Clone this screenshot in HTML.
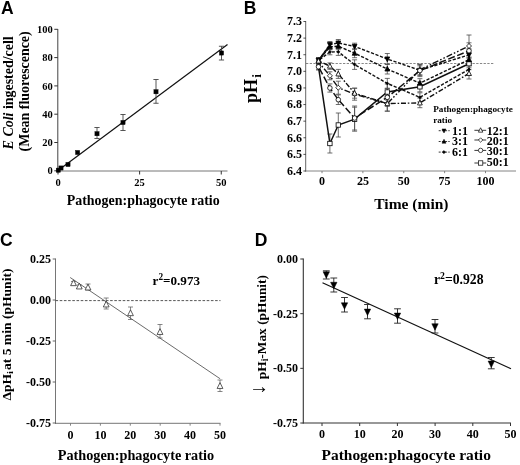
<!DOCTYPE html>
<html lang="en"><head><meta charset="utf-8"><title>Figure</title>
<style>html,body{margin:0;padding:0;background:#fff;}svg{display:block;filter:blur(0.35px);}</style>
</head><body>
<svg width="520" height="465" viewBox="0 0 520 465">
<rect x="0" y="0" width="520" height="465" fill="#fff"/>
<g id="panelA">
<text x="0.90" y="13.80" font-family='"Liberation Sans", sans-serif' font-size="17.5" font-weight="bold" text-anchor="start" fill="#000">A</text>
<line x1="57.80" y1="29.00" x2="57.80" y2="171.50" stroke="#444" stroke-width="1.0"/>
<line x1="57.30" y1="171.00" x2="227.50" y2="171.00" stroke="#666" stroke-width="0.9"/>
<line x1="54.30" y1="170.80" x2="57.80" y2="170.80" stroke="#333" stroke-width="1"/>
<text x="52.80" y="174.40" font-family='"Liberation Serif", serif' font-size="10.5" font-weight="bold" text-anchor="end" fill="#000">0</text>
<line x1="54.30" y1="142.50" x2="57.80" y2="142.50" stroke="#333" stroke-width="1"/>
<text x="52.80" y="146.10" font-family='"Liberation Serif", serif' font-size="10.5" font-weight="bold" text-anchor="end" fill="#000">20</text>
<line x1="54.30" y1="114.20" x2="57.80" y2="114.20" stroke="#333" stroke-width="1"/>
<text x="52.80" y="117.80" font-family='"Liberation Serif", serif' font-size="10.5" font-weight="bold" text-anchor="end" fill="#000">40</text>
<line x1="54.30" y1="85.90" x2="57.80" y2="85.90" stroke="#333" stroke-width="1"/>
<text x="52.80" y="89.50" font-family='"Liberation Serif", serif' font-size="10.5" font-weight="bold" text-anchor="end" fill="#000">60</text>
<line x1="54.30" y1="57.60" x2="57.80" y2="57.60" stroke="#333" stroke-width="1"/>
<text x="52.80" y="61.20" font-family='"Liberation Serif", serif' font-size="10.5" font-weight="bold" text-anchor="end" fill="#000">80</text>
<line x1="54.30" y1="29.30" x2="57.80" y2="29.30" stroke="#333" stroke-width="1"/>
<text x="52.80" y="32.90" font-family='"Liberation Serif", serif' font-size="10.5" font-weight="bold" text-anchor="end" fill="#000">100</text>
<line x1="58.00" y1="171.00" x2="58.00" y2="174.50" stroke="#333" stroke-width="1"/>
<text x="58.00" y="185.50" font-family='"Liberation Serif", serif' font-size="10.5" font-weight="bold" text-anchor="middle" fill="#000">0</text>
<line x1="139.62" y1="171.00" x2="139.62" y2="174.50" stroke="#333" stroke-width="1"/>
<text x="139.62" y="185.50" font-family='"Liberation Serif", serif' font-size="10.5" font-weight="bold" text-anchor="middle" fill="#000">25</text>
<line x1="221.25" y1="171.00" x2="221.25" y2="174.50" stroke="#333" stroke-width="1"/>
<text x="221.25" y="185.50" font-family='"Liberation Serif", serif' font-size="10.5" font-weight="bold" text-anchor="middle" fill="#000">50</text>
<text x="143.20" y="204.60" font-family='"Liberation Serif", serif' font-size="13.95" font-weight="bold" text-anchor="middle" fill="#000">Pathogen:phagocyte ratio</text>
<text transform="translate(13 149.4) rotate(-90)" font-family='"Liberation Serif", serif' font-size="13.95" font-weight="bold"><tspan font-style="italic">E Coli</tspan> ingested/cell</text>
<text transform="translate(28.8 151.4) rotate(-90)" font-family='"Liberation Serif", serif' font-size="13.95" font-weight="bold">(Mean fluorescence)</text>
<line x1="58.00" y1="170.50" x2="227.50" y2="44.50" stroke="#111" stroke-width="1.2"/>
<line x1="97.00" y1="127.50" x2="97.00" y2="138.50" stroke="#444" stroke-width="0.9"/>
<line x1="94.40" y1="127.50" x2="99.60" y2="127.50" stroke="#444" stroke-width="0.9"/>
<line x1="94.40" y1="138.50" x2="99.60" y2="138.50" stroke="#444" stroke-width="0.9"/>
<line x1="123.00" y1="114.50" x2="123.00" y2="130.50" stroke="#444" stroke-width="0.9"/>
<line x1="120.40" y1="114.50" x2="125.60" y2="114.50" stroke="#444" stroke-width="0.9"/>
<line x1="120.40" y1="130.50" x2="125.60" y2="130.50" stroke="#444" stroke-width="0.9"/>
<line x1="156.00" y1="79.50" x2="156.00" y2="103.25" stroke="#444" stroke-width="0.9"/>
<line x1="153.40" y1="79.50" x2="158.60" y2="79.50" stroke="#444" stroke-width="0.9"/>
<line x1="153.40" y1="103.25" x2="158.60" y2="103.25" stroke="#444" stroke-width="0.9"/>
<line x1="221.50" y1="46.25" x2="221.50" y2="60.00" stroke="#444" stroke-width="0.9"/>
<line x1="218.90" y1="46.25" x2="224.10" y2="46.25" stroke="#444" stroke-width="0.9"/>
<line x1="218.90" y1="60.00" x2="224.10" y2="60.00" stroke="#444" stroke-width="0.9"/>
<rect x="56.20" y="168.10" width="4.20" height="4.20" fill="#000" stroke="#000" stroke-width="0.4"/>
<rect x="58.90" y="165.90" width="4.20" height="4.20" fill="#000" stroke="#000" stroke-width="0.4"/>
<rect x="65.90" y="162.40" width="4.20" height="4.20" fill="#000" stroke="#000" stroke-width="0.4"/>
<rect x="75.50" y="150.40" width="4.20" height="4.20" fill="#000" stroke="#000" stroke-width="0.4"/>
<rect x="94.90" y="131.60" width="4.20" height="4.20" fill="#000" stroke="#000" stroke-width="0.4"/>
<rect x="120.90" y="120.40" width="4.20" height="4.20" fill="#000" stroke="#000" stroke-width="0.4"/>
<rect x="153.90" y="89.65" width="4.20" height="4.20" fill="#000" stroke="#000" stroke-width="0.4"/>
<rect x="219.40" y="50.90" width="4.20" height="4.20" fill="#000" stroke="#000" stroke-width="0.4"/>
</g>
<g id="panelB">
<text x="243.80" y="13.80" font-family='"Liberation Sans", sans-serif' font-size="17.5" font-weight="bold" text-anchor="start" fill="#000">B</text>
<line x1="305.70" y1="21.00" x2="305.70" y2="171.50" stroke="#555" stroke-width="0.9"/>
<line x1="305.50" y1="171.00" x2="516.00" y2="171.00" stroke="#777" stroke-width="0.9"/>
<line x1="303.40" y1="171.00" x2="306.00" y2="171.00" stroke="#444" stroke-width="0.9"/>
<text x="302.00" y="174.90" font-family='"Liberation Serif", serif' font-size="12" font-weight="bold" text-anchor="end" fill="#000">6.4</text>
<line x1="303.40" y1="154.39" x2="306.00" y2="154.39" stroke="#444" stroke-width="0.9"/>
<text x="302.00" y="158.29" font-family='"Liberation Serif", serif' font-size="12" font-weight="bold" text-anchor="end" fill="#000">6.5</text>
<line x1="303.40" y1="137.78" x2="306.00" y2="137.78" stroke="#444" stroke-width="0.9"/>
<text x="302.00" y="141.68" font-family='"Liberation Serif", serif' font-size="12" font-weight="bold" text-anchor="end" fill="#000">6.6</text>
<line x1="303.40" y1="121.17" x2="306.00" y2="121.17" stroke="#444" stroke-width="0.9"/>
<text x="302.00" y="125.07" font-family='"Liberation Serif", serif' font-size="12" font-weight="bold" text-anchor="end" fill="#000">6.7</text>
<line x1="303.40" y1="104.56" x2="306.00" y2="104.56" stroke="#444" stroke-width="0.9"/>
<text x="302.00" y="108.46" font-family='"Liberation Serif", serif' font-size="12" font-weight="bold" text-anchor="end" fill="#000">6.8</text>
<line x1="303.40" y1="87.95" x2="306.00" y2="87.95" stroke="#444" stroke-width="0.9"/>
<text x="302.00" y="91.85" font-family='"Liberation Serif", serif' font-size="12" font-weight="bold" text-anchor="end" fill="#000">6.9</text>
<line x1="303.40" y1="71.34" x2="306.00" y2="71.34" stroke="#444" stroke-width="0.9"/>
<text x="302.00" y="75.24" font-family='"Liberation Serif", serif' font-size="12" font-weight="bold" text-anchor="end" fill="#000">7.0</text>
<line x1="303.40" y1="54.73" x2="306.00" y2="54.73" stroke="#444" stroke-width="0.9"/>
<text x="302.00" y="58.63" font-family='"Liberation Serif", serif' font-size="12" font-weight="bold" text-anchor="end" fill="#000">7.1</text>
<line x1="303.40" y1="38.12" x2="306.00" y2="38.12" stroke="#444" stroke-width="0.9"/>
<text x="302.00" y="42.02" font-family='"Liberation Serif", serif' font-size="12" font-weight="bold" text-anchor="end" fill="#000">7.2</text>
<line x1="303.40" y1="21.51" x2="306.00" y2="21.51" stroke="#444" stroke-width="0.9"/>
<text x="302.00" y="25.41" font-family='"Liberation Serif", serif' font-size="12" font-weight="bold" text-anchor="end" fill="#000">7.3</text>
<line x1="322.00" y1="171.00" x2="322.00" y2="173.20" stroke="#777" stroke-width="0.9"/>
<text x="322.00" y="185.30" font-family='"Liberation Serif", serif' font-size="12" font-weight="bold" text-anchor="middle" fill="#000">0</text>
<line x1="362.88" y1="171.00" x2="362.88" y2="173.20" stroke="#777" stroke-width="0.9"/>
<text x="362.88" y="185.30" font-family='"Liberation Serif", serif' font-size="12" font-weight="bold" text-anchor="middle" fill="#000">25</text>
<line x1="403.75" y1="171.00" x2="403.75" y2="173.20" stroke="#777" stroke-width="0.9"/>
<text x="403.75" y="185.30" font-family='"Liberation Serif", serif' font-size="12" font-weight="bold" text-anchor="middle" fill="#000">50</text>
<line x1="444.62" y1="171.00" x2="444.62" y2="173.20" stroke="#777" stroke-width="0.9"/>
<text x="444.62" y="185.30" font-family='"Liberation Serif", serif' font-size="12" font-weight="bold" text-anchor="middle" fill="#000">75</text>
<line x1="485.50" y1="171.00" x2="485.50" y2="173.20" stroke="#777" stroke-width="0.9"/>
<text x="485.50" y="185.30" font-family='"Liberation Serif", serif' font-size="12" font-weight="bold" text-anchor="middle" fill="#000">100</text>
<text x="411.40" y="208.70" font-family='"Liberation Serif", serif' font-size="15.5" font-weight="bold" text-anchor="middle" fill="#000">Time (min)</text>
<text transform="translate(256.8 103) rotate(-90)" font-family='"Liberation Serif", serif' font-size="18" font-weight="bold">pH<tspan font-size="13.5" dy="4.6" dx="1.2">i</tspan></text>
<line x1="306.00" y1="63.50" x2="493.50" y2="63.50" stroke="#555" stroke-width="0.7" stroke-dasharray="2.3 1.4"/>
<line x1="318.50" y1="57.50" x2="318.50" y2="63.50" stroke="#4a4a4a" stroke-width="0.8"/>
<line x1="316.00" y1="57.50" x2="321.00" y2="57.50" stroke="#4a4a4a" stroke-width="0.8"/>
<line x1="316.00" y1="63.50" x2="321.00" y2="63.50" stroke="#4a4a4a" stroke-width="0.8"/>
<line x1="329.90" y1="41.50" x2="329.90" y2="47.50" stroke="#4a4a4a" stroke-width="0.8"/>
<line x1="327.40" y1="41.50" x2="332.40" y2="41.50" stroke="#4a4a4a" stroke-width="0.8"/>
<line x1="327.40" y1="47.50" x2="332.40" y2="47.50" stroke="#4a4a4a" stroke-width="0.8"/>
<line x1="338.30" y1="39.50" x2="338.30" y2="46.50" stroke="#4a4a4a" stroke-width="0.8"/>
<line x1="335.80" y1="39.50" x2="340.80" y2="39.50" stroke="#4a4a4a" stroke-width="0.8"/>
<line x1="335.80" y1="46.50" x2="340.80" y2="46.50" stroke="#4a4a4a" stroke-width="0.8"/>
<line x1="354.60" y1="43.20" x2="354.60" y2="49.60" stroke="#4a4a4a" stroke-width="0.8"/>
<line x1="352.10" y1="43.20" x2="357.10" y2="43.20" stroke="#4a4a4a" stroke-width="0.8"/>
<line x1="352.10" y1="49.60" x2="357.10" y2="49.60" stroke="#4a4a4a" stroke-width="0.8"/>
<line x1="387.30" y1="53.50" x2="387.30" y2="64.50" stroke="#4a4a4a" stroke-width="0.8"/>
<line x1="384.80" y1="53.50" x2="389.80" y2="53.50" stroke="#4a4a4a" stroke-width="0.8"/>
<line x1="384.80" y1="64.50" x2="389.80" y2="64.50" stroke="#4a4a4a" stroke-width="0.8"/>
<line x1="419.90" y1="65.80" x2="419.90" y2="74.80" stroke="#4a4a4a" stroke-width="0.8"/>
<line x1="417.40" y1="65.80" x2="422.40" y2="65.80" stroke="#4a4a4a" stroke-width="0.8"/>
<line x1="417.40" y1="74.80" x2="422.40" y2="74.80" stroke="#4a4a4a" stroke-width="0.8"/>
<line x1="469.00" y1="48.80" x2="469.00" y2="60.80" stroke="#4a4a4a" stroke-width="0.8"/>
<line x1="466.50" y1="48.80" x2="471.50" y2="48.80" stroke="#4a4a4a" stroke-width="0.8"/>
<line x1="466.50" y1="60.80" x2="471.50" y2="60.80" stroke="#4a4a4a" stroke-width="0.8"/>
<line x1="318.50" y1="57.50" x2="318.50" y2="63.50" stroke="#4a4a4a" stroke-width="0.8"/>
<line x1="316.00" y1="57.50" x2="321.00" y2="57.50" stroke="#4a4a4a" stroke-width="0.8"/>
<line x1="316.00" y1="63.50" x2="321.00" y2="63.50" stroke="#4a4a4a" stroke-width="0.8"/>
<line x1="329.90" y1="43.80" x2="329.90" y2="49.80" stroke="#4a4a4a" stroke-width="0.8"/>
<line x1="327.40" y1="43.80" x2="332.40" y2="43.80" stroke="#4a4a4a" stroke-width="0.8"/>
<line x1="327.40" y1="49.80" x2="332.40" y2="49.80" stroke="#4a4a4a" stroke-width="0.8"/>
<line x1="338.30" y1="42.70" x2="338.30" y2="49.70" stroke="#4a4a4a" stroke-width="0.8"/>
<line x1="335.80" y1="42.70" x2="340.80" y2="42.70" stroke="#4a4a4a" stroke-width="0.8"/>
<line x1="335.80" y1="49.70" x2="340.80" y2="49.70" stroke="#4a4a4a" stroke-width="0.8"/>
<line x1="354.60" y1="48.70" x2="354.60" y2="57.70" stroke="#4a4a4a" stroke-width="0.8"/>
<line x1="352.10" y1="48.70" x2="357.10" y2="48.70" stroke="#4a4a4a" stroke-width="0.8"/>
<line x1="352.10" y1="57.70" x2="357.10" y2="57.70" stroke="#4a4a4a" stroke-width="0.8"/>
<line x1="387.30" y1="64.00" x2="387.30" y2="74.00" stroke="#4a4a4a" stroke-width="0.8"/>
<line x1="384.80" y1="64.00" x2="389.80" y2="64.00" stroke="#4a4a4a" stroke-width="0.8"/>
<line x1="384.80" y1="74.00" x2="389.80" y2="74.00" stroke="#4a4a4a" stroke-width="0.8"/>
<line x1="419.90" y1="78.70" x2="419.90" y2="87.70" stroke="#4a4a4a" stroke-width="0.8"/>
<line x1="417.40" y1="78.70" x2="422.40" y2="78.70" stroke="#4a4a4a" stroke-width="0.8"/>
<line x1="417.40" y1="87.70" x2="422.40" y2="87.70" stroke="#4a4a4a" stroke-width="0.8"/>
<line x1="469.00" y1="53.70" x2="469.00" y2="65.70" stroke="#4a4a4a" stroke-width="0.8"/>
<line x1="466.50" y1="53.70" x2="471.50" y2="53.70" stroke="#4a4a4a" stroke-width="0.8"/>
<line x1="466.50" y1="65.70" x2="471.50" y2="65.70" stroke="#4a4a4a" stroke-width="0.8"/>
<line x1="318.50" y1="57.50" x2="318.50" y2="63.50" stroke="#4a4a4a" stroke-width="0.8"/>
<line x1="316.00" y1="57.50" x2="321.00" y2="57.50" stroke="#4a4a4a" stroke-width="0.8"/>
<line x1="316.00" y1="63.50" x2="321.00" y2="63.50" stroke="#4a4a4a" stroke-width="0.8"/>
<line x1="329.90" y1="49.20" x2="329.90" y2="54.80" stroke="#4a4a4a" stroke-width="0.8"/>
<line x1="327.40" y1="49.20" x2="332.40" y2="49.20" stroke="#4a4a4a" stroke-width="0.8"/>
<line x1="327.40" y1="54.80" x2="332.40" y2="54.80" stroke="#4a4a4a" stroke-width="0.8"/>
<line x1="338.30" y1="48.20" x2="338.30" y2="55.40" stroke="#4a4a4a" stroke-width="0.8"/>
<line x1="335.80" y1="48.20" x2="340.80" y2="48.20" stroke="#4a4a4a" stroke-width="0.8"/>
<line x1="335.80" y1="55.40" x2="340.80" y2="55.40" stroke="#4a4a4a" stroke-width="0.8"/>
<line x1="354.60" y1="59.80" x2="354.60" y2="69.40" stroke="#4a4a4a" stroke-width="0.8"/>
<line x1="352.10" y1="59.80" x2="357.10" y2="59.80" stroke="#4a4a4a" stroke-width="0.8"/>
<line x1="352.10" y1="69.40" x2="357.10" y2="69.40" stroke="#4a4a4a" stroke-width="0.8"/>
<line x1="387.30" y1="78.40" x2="387.30" y2="88.40" stroke="#4a4a4a" stroke-width="0.8"/>
<line x1="384.80" y1="78.40" x2="389.80" y2="78.40" stroke="#4a4a4a" stroke-width="0.8"/>
<line x1="384.80" y1="88.40" x2="389.80" y2="88.40" stroke="#4a4a4a" stroke-width="0.8"/>
<line x1="419.90" y1="92.80" x2="419.90" y2="101.80" stroke="#4a4a4a" stroke-width="0.8"/>
<line x1="417.40" y1="92.80" x2="422.40" y2="92.80" stroke="#4a4a4a" stroke-width="0.8"/>
<line x1="417.40" y1="101.80" x2="422.40" y2="101.80" stroke="#4a4a4a" stroke-width="0.8"/>
<line x1="469.00" y1="63.40" x2="469.00" y2="75.40" stroke="#4a4a4a" stroke-width="0.8"/>
<line x1="466.50" y1="63.40" x2="471.50" y2="63.40" stroke="#4a4a4a" stroke-width="0.8"/>
<line x1="466.50" y1="75.40" x2="471.50" y2="75.40" stroke="#4a4a4a" stroke-width="0.8"/>
<line x1="318.50" y1="57.50" x2="318.50" y2="64.50" stroke="#4a4a4a" stroke-width="0.8"/>
<line x1="316.00" y1="57.50" x2="321.00" y2="57.50" stroke="#4a4a4a" stroke-width="0.8"/>
<line x1="316.00" y1="64.50" x2="321.00" y2="64.50" stroke="#4a4a4a" stroke-width="0.8"/>
<line x1="329.90" y1="62.90" x2="329.90" y2="69.30" stroke="#4a4a4a" stroke-width="0.8"/>
<line x1="327.40" y1="62.90" x2="332.40" y2="62.90" stroke="#4a4a4a" stroke-width="0.8"/>
<line x1="327.40" y1="69.30" x2="332.40" y2="69.30" stroke="#4a4a4a" stroke-width="0.8"/>
<line x1="338.30" y1="69.40" x2="338.30" y2="78.40" stroke="#4a4a4a" stroke-width="0.8"/>
<line x1="335.80" y1="69.40" x2="340.80" y2="69.40" stroke="#4a4a4a" stroke-width="0.8"/>
<line x1="335.80" y1="78.40" x2="340.80" y2="78.40" stroke="#4a4a4a" stroke-width="0.8"/>
<line x1="354.60" y1="88.20" x2="354.60" y2="98.20" stroke="#4a4a4a" stroke-width="0.8"/>
<line x1="352.10" y1="88.20" x2="357.10" y2="88.20" stroke="#4a4a4a" stroke-width="0.8"/>
<line x1="352.10" y1="98.20" x2="357.10" y2="98.20" stroke="#4a4a4a" stroke-width="0.8"/>
<line x1="387.30" y1="96.10" x2="387.30" y2="111.10" stroke="#4a4a4a" stroke-width="0.8"/>
<line x1="384.80" y1="96.10" x2="389.80" y2="96.10" stroke="#4a4a4a" stroke-width="0.8"/>
<line x1="384.80" y1="111.10" x2="389.80" y2="111.10" stroke="#4a4a4a" stroke-width="0.8"/>
<line x1="419.90" y1="98.10" x2="419.90" y2="107.70" stroke="#4a4a4a" stroke-width="0.8"/>
<line x1="417.40" y1="98.10" x2="422.40" y2="98.10" stroke="#4a4a4a" stroke-width="0.8"/>
<line x1="417.40" y1="107.70" x2="422.40" y2="107.70" stroke="#4a4a4a" stroke-width="0.8"/>
<line x1="469.00" y1="67.80" x2="469.00" y2="79.00" stroke="#4a4a4a" stroke-width="0.8"/>
<line x1="466.50" y1="67.80" x2="471.50" y2="67.80" stroke="#4a4a4a" stroke-width="0.8"/>
<line x1="466.50" y1="79.00" x2="471.50" y2="79.00" stroke="#4a4a4a" stroke-width="0.8"/>
<line x1="318.50" y1="58.50" x2="318.50" y2="65.50" stroke="#4a4a4a" stroke-width="0.8"/>
<line x1="316.00" y1="58.50" x2="321.00" y2="58.50" stroke="#4a4a4a" stroke-width="0.8"/>
<line x1="316.00" y1="65.50" x2="321.00" y2="65.50" stroke="#4a4a4a" stroke-width="0.8"/>
<line x1="329.90" y1="71.80" x2="329.90" y2="79.80" stroke="#4a4a4a" stroke-width="0.8"/>
<line x1="327.40" y1="71.80" x2="332.40" y2="71.80" stroke="#4a4a4a" stroke-width="0.8"/>
<line x1="327.40" y1="79.80" x2="332.40" y2="79.80" stroke="#4a4a4a" stroke-width="0.8"/>
<line x1="338.30" y1="81.20" x2="338.30" y2="94.20" stroke="#4a4a4a" stroke-width="0.8"/>
<line x1="335.80" y1="81.20" x2="340.80" y2="81.20" stroke="#4a4a4a" stroke-width="0.8"/>
<line x1="335.80" y1="94.20" x2="340.80" y2="94.20" stroke="#4a4a4a" stroke-width="0.8"/>
<line x1="354.60" y1="88.20" x2="354.60" y2="100.20" stroke="#4a4a4a" stroke-width="0.8"/>
<line x1="352.10" y1="88.20" x2="357.10" y2="88.20" stroke="#4a4a4a" stroke-width="0.8"/>
<line x1="352.10" y1="100.20" x2="357.10" y2="100.20" stroke="#4a4a4a" stroke-width="0.8"/>
<line x1="387.30" y1="96.20" x2="387.30" y2="111.20" stroke="#4a4a4a" stroke-width="0.8"/>
<line x1="384.80" y1="96.20" x2="389.80" y2="96.20" stroke="#4a4a4a" stroke-width="0.8"/>
<line x1="384.80" y1="111.20" x2="389.80" y2="111.20" stroke="#4a4a4a" stroke-width="0.8"/>
<line x1="419.90" y1="64.20" x2="419.90" y2="75.40" stroke="#4a4a4a" stroke-width="0.8"/>
<line x1="417.40" y1="64.20" x2="422.40" y2="64.20" stroke="#4a4a4a" stroke-width="0.8"/>
<line x1="417.40" y1="75.40" x2="422.40" y2="75.40" stroke="#4a4a4a" stroke-width="0.8"/>
<line x1="469.00" y1="35.00" x2="469.00" y2="57.00" stroke="#4a4a4a" stroke-width="0.8"/>
<line x1="466.50" y1="35.00" x2="471.50" y2="35.00" stroke="#4a4a4a" stroke-width="0.8"/>
<line x1="466.50" y1="57.00" x2="471.50" y2="57.00" stroke="#4a4a4a" stroke-width="0.8"/>
<line x1="318.50" y1="63.80" x2="318.50" y2="69.80" stroke="#4a4a4a" stroke-width="0.8"/>
<line x1="316.00" y1="63.80" x2="321.00" y2="63.80" stroke="#4a4a4a" stroke-width="0.8"/>
<line x1="316.00" y1="69.80" x2="321.00" y2="69.80" stroke="#4a4a4a" stroke-width="0.8"/>
<line x1="329.90" y1="83.90" x2="329.90" y2="92.10" stroke="#4a4a4a" stroke-width="0.8"/>
<line x1="327.40" y1="83.90" x2="332.40" y2="83.90" stroke="#4a4a4a" stroke-width="0.8"/>
<line x1="327.40" y1="92.10" x2="332.40" y2="92.10" stroke="#4a4a4a" stroke-width="0.8"/>
<line x1="338.30" y1="94.90" x2="338.30" y2="104.50" stroke="#4a4a4a" stroke-width="0.8"/>
<line x1="335.80" y1="94.90" x2="340.80" y2="94.90" stroke="#4a4a4a" stroke-width="0.8"/>
<line x1="335.80" y1="104.50" x2="340.80" y2="104.50" stroke="#4a4a4a" stroke-width="0.8"/>
<line x1="354.60" y1="106.00" x2="354.60" y2="130.00" stroke="#4a4a4a" stroke-width="0.8"/>
<line x1="352.10" y1="106.00" x2="357.10" y2="106.00" stroke="#4a4a4a" stroke-width="0.8"/>
<line x1="352.10" y1="130.00" x2="357.10" y2="130.00" stroke="#4a4a4a" stroke-width="0.8"/>
<line x1="387.30" y1="88.30" x2="387.30" y2="106.30" stroke="#4a4a4a" stroke-width="0.8"/>
<line x1="384.80" y1="88.30" x2="389.80" y2="88.30" stroke="#4a4a4a" stroke-width="0.8"/>
<line x1="384.80" y1="106.30" x2="389.80" y2="106.30" stroke="#4a4a4a" stroke-width="0.8"/>
<line x1="419.90" y1="64.60" x2="419.90" y2="76.60" stroke="#4a4a4a" stroke-width="0.8"/>
<line x1="417.40" y1="64.60" x2="422.40" y2="64.60" stroke="#4a4a4a" stroke-width="0.8"/>
<line x1="417.40" y1="76.60" x2="422.40" y2="76.60" stroke="#4a4a4a" stroke-width="0.8"/>
<line x1="469.00" y1="42.80" x2="469.00" y2="58.80" stroke="#4a4a4a" stroke-width="0.8"/>
<line x1="466.50" y1="42.80" x2="471.50" y2="42.80" stroke="#4a4a4a" stroke-width="0.8"/>
<line x1="466.50" y1="58.80" x2="471.50" y2="58.80" stroke="#4a4a4a" stroke-width="0.8"/>
<line x1="318.50" y1="63.80" x2="318.50" y2="69.80" stroke="#4a4a4a" stroke-width="0.8"/>
<line x1="316.00" y1="63.80" x2="321.00" y2="63.80" stroke="#4a4a4a" stroke-width="0.8"/>
<line x1="316.00" y1="69.80" x2="321.00" y2="69.80" stroke="#4a4a4a" stroke-width="0.8"/>
<line x1="329.90" y1="134.00" x2="329.90" y2="153.00" stroke="#4a4a4a" stroke-width="0.8"/>
<line x1="327.40" y1="134.00" x2="332.40" y2="134.00" stroke="#4a4a4a" stroke-width="0.8"/>
<line x1="327.40" y1="153.00" x2="332.40" y2="153.00" stroke="#4a4a4a" stroke-width="0.8"/>
<line x1="338.30" y1="113.00" x2="338.30" y2="137.00" stroke="#4a4a4a" stroke-width="0.8"/>
<line x1="335.80" y1="113.00" x2="340.80" y2="113.00" stroke="#4a4a4a" stroke-width="0.8"/>
<line x1="335.80" y1="137.00" x2="340.80" y2="137.00" stroke="#4a4a4a" stroke-width="0.8"/>
<line x1="354.60" y1="107.20" x2="354.60" y2="131.20" stroke="#4a4a4a" stroke-width="0.8"/>
<line x1="352.10" y1="107.20" x2="357.10" y2="107.20" stroke="#4a4a4a" stroke-width="0.8"/>
<line x1="352.10" y1="131.20" x2="357.10" y2="131.20" stroke="#4a4a4a" stroke-width="0.8"/>
<line x1="387.30" y1="84.00" x2="387.30" y2="100.00" stroke="#4a4a4a" stroke-width="0.8"/>
<line x1="384.80" y1="84.00" x2="389.80" y2="84.00" stroke="#4a4a4a" stroke-width="0.8"/>
<line x1="384.80" y1="100.00" x2="389.80" y2="100.00" stroke="#4a4a4a" stroke-width="0.8"/>
<line x1="419.90" y1="81.80" x2="419.90" y2="91.80" stroke="#4a4a4a" stroke-width="0.8"/>
<line x1="417.40" y1="81.80" x2="422.40" y2="81.80" stroke="#4a4a4a" stroke-width="0.8"/>
<line x1="417.40" y1="91.80" x2="422.40" y2="91.80" stroke="#4a4a4a" stroke-width="0.8"/>
<line x1="469.00" y1="57.70" x2="469.00" y2="69.70" stroke="#4a4a4a" stroke-width="0.8"/>
<line x1="466.50" y1="57.70" x2="471.50" y2="57.70" stroke="#4a4a4a" stroke-width="0.8"/>
<line x1="466.50" y1="69.70" x2="471.50" y2="69.70" stroke="#4a4a4a" stroke-width="0.8"/>
<polyline points="318.50,60.50 329.90,44.50 338.30,43.00 354.60,46.40 387.30,59.00 419.90,70.30 469.00,54.80" fill="none" stroke="#111" stroke-width="1.4" stroke-dasharray="3.2 1.6" stroke-dashoffset="0.0"/>
<polyline points="318.50,60.50 329.90,46.80 338.30,46.20 354.60,53.20 387.30,69.00 419.90,83.20 469.00,59.70" fill="none" stroke="#111" stroke-width="1.4" stroke-dasharray="3.2 1.6" stroke-dashoffset="1.6"/>
<polyline points="318.50,60.50 329.90,52.00 338.30,51.80 354.60,64.60 387.30,83.40 419.90,97.30 469.00,69.40" fill="none" stroke="#111" stroke-width="1.4" stroke-dasharray="3.2 1.6" stroke-dashoffset="3.2"/>
<polyline points="318.50,61.00 329.90,66.10 338.30,73.90 354.60,93.20 387.30,103.60 419.90,102.90 469.00,73.40" fill="none" stroke="#111" stroke-width="1.4" stroke-dasharray="5 1.8 1.6 1.8" stroke-dashoffset="4.8"/>
<polyline points="318.50,62.00 329.90,75.80 338.30,87.70 354.60,94.20 387.30,103.70 419.90,69.80 469.00,46.00" fill="none" stroke="#111" stroke-width="1.4" stroke-dasharray="6 2 1.6 2 1.6 2" stroke-dashoffset="6.4"/>
<polyline points="318.50,66.80 329.90,88.00 338.30,99.70 354.60,118.00 387.30,97.30 419.90,70.60 469.00,50.80" fill="none" stroke="#111" stroke-width="1.5" stroke-dasharray="7 2.6" stroke-dashoffset="8.0"/>
<polyline points="318.50,66.80 329.90,143.50 338.30,125.00 354.60,119.20 387.30,92.00 419.90,86.80 469.00,63.70" fill="none" stroke="#111" stroke-width="1.5"/>
<line x1="318.50" y1="60.50" x2="329.90" y2="45.50" stroke="#111" stroke-width="1.9"/>
<rect x="327.70" y="141.30" width="4.40" height="4.40" fill="#fff" stroke="#000" stroke-width="0.8"/>
<rect x="336.10" y="122.80" width="4.40" height="4.40" fill="#fff" stroke="#000" stroke-width="0.8"/>
<rect x="352.40" y="117.00" width="4.40" height="4.40" fill="#fff" stroke="#000" stroke-width="0.8"/>
<rect x="385.10" y="89.80" width="4.40" height="4.40" fill="#fff" stroke="#000" stroke-width="0.8"/>
<rect x="417.70" y="84.60" width="4.40" height="4.40" fill="#fff" stroke="#000" stroke-width="0.8"/>
<rect x="466.80" y="61.50" width="4.40" height="4.40" fill="#fff" stroke="#000" stroke-width="0.8"/>
<polygon points="329.90,73.30 332.40,75.80 329.90,78.30 327.40,75.80" fill="#fff" stroke="#000" stroke-width="0.8"/>
<polygon points="338.30,85.20 340.80,87.70 338.30,90.20 335.80,87.70" fill="#fff" stroke="#000" stroke-width="0.8"/>
<polygon points="354.60,91.70 357.10,94.20 354.60,96.70 352.10,94.20" fill="#fff" stroke="#000" stroke-width="0.8"/>
<polygon points="387.30,101.20 389.80,103.70 387.30,106.20 384.80,103.70" fill="#fff" stroke="#000" stroke-width="0.8"/>
<polygon points="419.90,67.30 422.40,69.80 419.90,72.30 417.40,69.80" fill="#fff" stroke="#000" stroke-width="0.8"/>
<polygon points="469.00,43.50 471.50,46.00 469.00,48.50 466.50,46.00" fill="#fff" stroke="#000" stroke-width="0.8"/>
<polygon points="318.50,63.26 316.10,58.46 320.90,58.46" fill="#000" stroke="#000" stroke-width="0.8"/>
<polygon points="329.90,47.26 327.50,42.46 332.30,42.46" fill="#000" stroke="#000" stroke-width="0.8"/>
<polygon points="338.30,45.76 335.90,40.96 340.70,40.96" fill="#000" stroke="#000" stroke-width="0.8"/>
<polygon points="354.60,49.16 352.20,44.36 357.00,44.36" fill="#000" stroke="#000" stroke-width="0.8"/>
<polygon points="387.30,61.76 384.90,56.96 389.70,56.96" fill="#000" stroke="#000" stroke-width="0.8"/>
<polygon points="419.90,73.06 417.50,68.26 422.30,68.26" fill="#000" stroke="#000" stroke-width="0.8"/>
<polygon points="469.00,57.56 466.60,52.76 471.40,52.76" fill="#000" stroke="#000" stroke-width="0.8"/>
<polygon points="318.50,57.74 316.10,62.54 320.90,62.54" fill="#000" stroke="#000" stroke-width="0.8"/>
<polygon points="329.90,44.04 327.50,48.84 332.30,48.84" fill="#000" stroke="#000" stroke-width="0.8"/>
<polygon points="338.30,43.44 335.90,48.24 340.70,48.24" fill="#000" stroke="#000" stroke-width="0.8"/>
<polygon points="354.60,50.44 352.20,55.24 357.00,55.24" fill="#000" stroke="#000" stroke-width="0.8"/>
<polygon points="387.30,66.24 384.90,71.04 389.70,71.04" fill="#000" stroke="#000" stroke-width="0.8"/>
<polygon points="419.90,80.44 417.50,85.24 422.30,85.24" fill="#000" stroke="#000" stroke-width="0.8"/>
<polygon points="469.00,56.94 466.60,61.74 471.40,61.74" fill="#000" stroke="#000" stroke-width="0.8"/>
<polygon points="318.50,59.10 319.90,60.50 318.50,61.90 317.10,60.50" fill="#000" stroke="#000" stroke-width="0.8"/>
<polygon points="329.90,50.60 331.30,52.00 329.90,53.40 328.50,52.00" fill="#000" stroke="#000" stroke-width="0.8"/>
<polygon points="338.30,50.40 339.70,51.80 338.30,53.20 336.90,51.80" fill="#000" stroke="#000" stroke-width="0.8"/>
<polygon points="354.60,63.20 356.00,64.60 354.60,66.00 353.20,64.60" fill="#000" stroke="#000" stroke-width="0.8"/>
<polygon points="387.30,82.00 388.70,83.40 387.30,84.80 385.90,83.40" fill="#000" stroke="#000" stroke-width="0.8"/>
<polygon points="419.90,95.90 421.30,97.30 419.90,98.70 418.50,97.30" fill="#000" stroke="#000" stroke-width="0.8"/>
<polygon points="469.00,68.00 470.40,69.40 469.00,70.80 467.60,69.40" fill="#000" stroke="#000" stroke-width="0.8"/>
<circle cx="318.50" cy="66.80" r="2.30" fill="#fff" stroke="#000" stroke-width="0.8"/>
<circle cx="329.90" cy="88.00" r="2.30" fill="#fff" stroke="#000" stroke-width="0.8"/>
<circle cx="338.30" cy="99.70" r="2.30" fill="#fff" stroke="#000" stroke-width="0.8"/>
<circle cx="354.60" cy="118.00" r="2.30" fill="#fff" stroke="#000" stroke-width="0.8"/>
<circle cx="387.30" cy="97.30" r="2.30" fill="#fff" stroke="#000" stroke-width="0.8"/>
<circle cx="419.90" cy="70.60" r="2.30" fill="#fff" stroke="#000" stroke-width="0.8"/>
<circle cx="469.00" cy="50.80" r="2.30" fill="#fff" stroke="#000" stroke-width="0.8"/>
<polygon points="318.50,58.24 316.10,63.04 320.90,63.04" fill="#fff" stroke="#000" stroke-width="0.8"/>
<polygon points="329.90,63.34 327.50,68.14 332.30,68.14" fill="#fff" stroke="#000" stroke-width="0.8"/>
<polygon points="338.30,71.14 335.90,75.94 340.70,75.94" fill="#fff" stroke="#000" stroke-width="0.8"/>
<polygon points="354.60,90.44 352.20,95.24 357.00,95.24" fill="#fff" stroke="#000" stroke-width="0.8"/>
<polygon points="387.30,100.84 384.90,105.64 389.70,105.64" fill="#fff" stroke="#000" stroke-width="0.8"/>
<polygon points="419.90,100.14 417.50,104.94 422.30,104.94" fill="#fff" stroke="#000" stroke-width="0.8"/>
<polygon points="469.00,70.64 466.60,75.44 471.40,75.44" fill="#fff" stroke="#000" stroke-width="0.8"/>
<text x="433.20" y="111.70" font-family='"Liberation Serif", serif' font-size="9.2" font-weight="bold" text-anchor="start" fill="#000">Pathogen:phagocyte</text>
<text x="433.20" y="122.80" font-family='"Liberation Serif", serif' font-size="9.2" font-weight="bold" text-anchor="start" fill="#000">ratio</text>
<line x1="438.70" y1="130.70" x2="449.70" y2="130.70" stroke="#222" stroke-width="0.9" stroke-dasharray="2 1.2"/>
<polygon points="444.00,133.00 442.00,129.00 446.00,129.00" fill="#000" stroke="#000" stroke-width="0.5"/>
<text x="452.00" y="134.90" font-family='"Liberation Serif", serif' font-size="12" font-weight="bold" text-anchor="start" fill="#000">1:1</text>
<line x1="438.70" y1="141.50" x2="449.70" y2="141.50" stroke="#222" stroke-width="0.9" stroke-dasharray="2 1.2"/>
<polygon points="444.00,139.20 442.00,143.20 446.00,143.20" fill="#000" stroke="#000" stroke-width="0.5"/>
<text x="452.00" y="145.00" font-family='"Liberation Serif", serif' font-size="12" font-weight="bold" text-anchor="start" fill="#000">3:1</text>
<line x1="438.70" y1="152.10" x2="449.70" y2="152.10" stroke="#222" stroke-width="0.9" stroke-dasharray="2 1.2"/>
<polygon points="444.00,150.50 445.60,152.10 444.00,153.70 442.40,152.10" fill="#000" stroke="#000" stroke-width="0.5"/>
<text x="452.00" y="155.60" font-family='"Liberation Serif", serif' font-size="12" font-weight="bold" text-anchor="start" fill="#000">6:1</text>
<line x1="474.40" y1="130.30" x2="486.20" y2="130.30" stroke="#222" stroke-width="0.9"/>
<polygon points="480.60,127.77 478.40,132.17 482.80,132.17" fill="#fff" stroke="#000" stroke-width="0.7"/>
<text x="486.70" y="134.60" font-family='"Liberation Serif", serif' font-size="12" font-weight="bold" text-anchor="start" fill="#000">12:1</text>
<line x1="474.40" y1="140.00" x2="486.20" y2="140.00" stroke="#222" stroke-width="0.9"/>
<polygon points="480.60,137.80 482.80,140.00 480.60,142.20 478.40,140.00" fill="#fff" stroke="#000" stroke-width="0.7"/>
<text x="486.70" y="144.70" font-family='"Liberation Serif", serif' font-size="12" font-weight="bold" text-anchor="start" fill="#000">20:1</text>
<line x1="474.40" y1="150.40" x2="486.20" y2="150.40" stroke="#222" stroke-width="0.9"/>
<circle cx="480.60" cy="150.40" r="2.20" fill="#fff" stroke="#000" stroke-width="0.7"/>
<text x="486.70" y="155.10" font-family='"Liberation Serif", serif' font-size="12" font-weight="bold" text-anchor="start" fill="#000">30:1</text>
<line x1="474.40" y1="163.00" x2="486.20" y2="163.00" stroke="#222" stroke-width="0.9"/>
<rect x="478.40" y="160.80" width="4.40" height="4.40" fill="#fff" stroke="#000" stroke-width="0.7"/>
<text x="486.70" y="166.40" font-family='"Liberation Serif", serif' font-size="12" font-weight="bold" text-anchor="start" fill="#000">50:1</text>
</g>
<g id="panelC">
<text x="0.10" y="246.20" font-family='"Liberation Sans", sans-serif' font-size="17.5" font-weight="bold" text-anchor="start" fill="#000">C</text>
<line x1="55.50" y1="258.50" x2="55.50" y2="423.80" stroke="#666" stroke-width="0.9"/>
<line x1="55.00" y1="423.30" x2="220.50" y2="423.30" stroke="#666" stroke-width="0.9"/>
<line x1="52.70" y1="259.00" x2="55.50" y2="259.00" stroke="#555" stroke-width="0.9"/>
<text x="51.10" y="262.90" font-family='"Liberation Serif", serif' font-size="12" font-weight="bold" text-anchor="end" fill="#000">0.25</text>
<line x1="52.70" y1="300.00" x2="55.50" y2="300.00" stroke="#555" stroke-width="0.9"/>
<text x="51.10" y="303.90" font-family='"Liberation Serif", serif' font-size="12" font-weight="bold" text-anchor="end" fill="#000">0.00</text>
<line x1="52.70" y1="341.00" x2="55.50" y2="341.00" stroke="#555" stroke-width="0.9"/>
<text x="51.10" y="344.90" font-family='"Liberation Serif", serif' font-size="12" font-weight="bold" text-anchor="end" fill="#000">-0.25</text>
<line x1="52.70" y1="382.00" x2="55.50" y2="382.00" stroke="#555" stroke-width="0.9"/>
<text x="51.10" y="385.90" font-family='"Liberation Serif", serif' font-size="12" font-weight="bold" text-anchor="end" fill="#000">-0.50</text>
<line x1="52.70" y1="423.00" x2="55.50" y2="423.00" stroke="#555" stroke-width="0.9"/>
<text x="51.10" y="426.90" font-family='"Liberation Serif", serif' font-size="12" font-weight="bold" text-anchor="end" fill="#000">-0.75</text>
<line x1="70.50" y1="423.30" x2="70.50" y2="425.70" stroke="#777" stroke-width="0.9"/>
<text x="70.50" y="438.50" font-family='"Liberation Serif", serif' font-size="12" font-weight="bold" text-anchor="middle" fill="#000">0</text>
<line x1="100.40" y1="423.30" x2="100.40" y2="425.70" stroke="#777" stroke-width="0.9"/>
<text x="100.40" y="438.50" font-family='"Liberation Serif", serif' font-size="12" font-weight="bold" text-anchor="middle" fill="#000">10</text>
<line x1="130.30" y1="423.30" x2="130.30" y2="425.70" stroke="#777" stroke-width="0.9"/>
<text x="130.30" y="438.50" font-family='"Liberation Serif", serif' font-size="12" font-weight="bold" text-anchor="middle" fill="#000">20</text>
<line x1="160.20" y1="423.30" x2="160.20" y2="425.70" stroke="#777" stroke-width="0.9"/>
<text x="160.20" y="438.50" font-family='"Liberation Serif", serif' font-size="12" font-weight="bold" text-anchor="middle" fill="#000">30</text>
<line x1="190.10" y1="423.30" x2="190.10" y2="425.70" stroke="#777" stroke-width="0.9"/>
<text x="190.10" y="438.50" font-family='"Liberation Serif", serif' font-size="12" font-weight="bold" text-anchor="middle" fill="#000">40</text>
<line x1="220.00" y1="423.30" x2="220.00" y2="425.70" stroke="#777" stroke-width="0.9"/>
<text x="220.00" y="438.50" font-family='"Liberation Serif", serif' font-size="12" font-weight="bold" text-anchor="middle" fill="#000">50</text>
<text x="135.90" y="459.60" font-family='"Liberation Serif", serif' font-size="14.25" font-weight="bold" text-anchor="middle" fill="#000">Pathogen:phagocyte ratio</text>
<text transform="translate(10.9 400.6) rotate(-90) scale(1.115 1)" font-family='"Liberation Serif", serif' font-size="12.2" font-weight="bold">ΔpH<tspan font-size="9" dy="2.5">i</tspan><tspan dy="-2.5" dx="1">at 5 min (pHunit)</tspan></text>
<line x1="55.50" y1="300.60" x2="220.50" y2="300.60" stroke="#444" stroke-width="0.9" stroke-dasharray="2.6 1.6"/>
<line x1="70.20" y1="277.50" x2="220.20" y2="378.80" stroke="#444" stroke-width="0.8"/>
<line x1="73.50" y1="281.50" x2="73.50" y2="285.00" stroke="#555" stroke-width="0.7"/>
<line x1="71.00" y1="281.50" x2="76.00" y2="281.50" stroke="#555" stroke-width="0.7"/>
<line x1="71.00" y1="285.00" x2="76.00" y2="285.00" stroke="#555" stroke-width="0.7"/>
<line x1="79.30" y1="285.00" x2="79.30" y2="288.50" stroke="#555" stroke-width="0.7"/>
<line x1="76.80" y1="285.00" x2="81.80" y2="285.00" stroke="#555" stroke-width="0.7"/>
<line x1="76.80" y1="288.50" x2="81.80" y2="288.50" stroke="#555" stroke-width="0.7"/>
<line x1="88.00" y1="284.00" x2="88.00" y2="290.00" stroke="#555" stroke-width="0.7"/>
<line x1="85.50" y1="284.00" x2="90.50" y2="284.00" stroke="#555" stroke-width="0.7"/>
<line x1="85.50" y1="290.00" x2="90.50" y2="290.00" stroke="#555" stroke-width="0.7"/>
<line x1="106.20" y1="298.00" x2="106.20" y2="309.00" stroke="#555" stroke-width="0.7"/>
<line x1="103.70" y1="298.00" x2="108.70" y2="298.00" stroke="#555" stroke-width="0.7"/>
<line x1="103.70" y1="309.00" x2="108.70" y2="309.00" stroke="#555" stroke-width="0.7"/>
<line x1="130.50" y1="307.00" x2="130.50" y2="319.50" stroke="#555" stroke-width="0.7"/>
<line x1="128.00" y1="307.00" x2="133.00" y2="307.00" stroke="#555" stroke-width="0.7"/>
<line x1="128.00" y1="319.50" x2="133.00" y2="319.50" stroke="#555" stroke-width="0.7"/>
<line x1="160.00" y1="324.50" x2="160.00" y2="338.00" stroke="#555" stroke-width="0.7"/>
<line x1="157.50" y1="324.50" x2="162.50" y2="324.50" stroke="#555" stroke-width="0.7"/>
<line x1="157.50" y1="338.00" x2="162.50" y2="338.00" stroke="#555" stroke-width="0.7"/>
<line x1="220.00" y1="380.00" x2="220.00" y2="391.50" stroke="#555" stroke-width="0.7"/>
<line x1="217.50" y1="380.00" x2="222.50" y2="380.00" stroke="#555" stroke-width="0.7"/>
<line x1="217.50" y1="391.50" x2="222.50" y2="391.50" stroke="#555" stroke-width="0.7"/>
<polygon points="73.50,279.87 70.60,285.66 76.40,285.66" fill="#fff" stroke="#333" stroke-width="0.8"/>
<polygon points="79.30,283.17 76.40,288.96 82.20,288.96" fill="#fff" stroke="#333" stroke-width="0.8"/>
<polygon points="88.00,284.17 85.10,289.96 90.90,289.96" fill="#fff" stroke="#333" stroke-width="0.8"/>
<polygon points="106.20,301.17 103.30,306.96 109.10,306.96" fill="#fff" stroke="#333" stroke-width="0.8"/>
<polygon points="130.50,309.87 127.60,315.66 133.40,315.66" fill="#fff" stroke="#333" stroke-width="0.8"/>
<polygon points="160.00,328.67 157.10,334.46 162.90,334.46" fill="#fff" stroke="#333" stroke-width="0.8"/>
<polygon points="220.00,382.67 217.10,388.46 222.90,388.46" fill="#fff" stroke="#333" stroke-width="0.8"/>
<text x="152.6" y="285.2" font-family='"Liberation Serif", serif' font-size="13.1" font-weight="bold">r<tspan font-size="9.3" dy="-4.8">2</tspan><tspan dy="4.8">=0.973</tspan></text>
</g>
<g id="panelD">
<text x="254.80" y="246.30" font-family='"Liberation Sans", sans-serif' font-size="17.5" font-weight="bold" text-anchor="start" fill="#000">D</text>
<line x1="303.30" y1="258.50" x2="303.30" y2="423.50" stroke="#333" stroke-width="1.1"/>
<line x1="302.80" y1="423.00" x2="511.00" y2="423.00" stroke="#333" stroke-width="1.1"/>
<line x1="300.30" y1="259.00" x2="303.30" y2="259.00" stroke="#333" stroke-width="1"/>
<text x="298.10" y="263.00" font-family='"Liberation Serif", serif' font-size="12" font-weight="bold" text-anchor="end" fill="#000">0.00</text>
<line x1="300.30" y1="313.68" x2="303.30" y2="313.68" stroke="#333" stroke-width="1"/>
<text x="298.10" y="317.68" font-family='"Liberation Serif", serif' font-size="12" font-weight="bold" text-anchor="end" fill="#000">-0.25</text>
<line x1="300.30" y1="368.35" x2="303.30" y2="368.35" stroke="#333" stroke-width="1"/>
<text x="298.10" y="372.35" font-family='"Liberation Serif", serif' font-size="12" font-weight="bold" text-anchor="end" fill="#000">-0.50</text>
<line x1="300.30" y1="423.02" x2="303.30" y2="423.02" stroke="#333" stroke-width="1"/>
<text x="298.10" y="427.02" font-family='"Liberation Serif", serif' font-size="12" font-weight="bold" text-anchor="end" fill="#000">-0.75</text>
<line x1="322.00" y1="423.00" x2="322.00" y2="426.00" stroke="#333" stroke-width="1"/>
<text x="322.00" y="438.20" font-family='"Liberation Serif", serif' font-size="12" font-weight="bold" text-anchor="middle" fill="#000">0</text>
<line x1="359.70" y1="423.00" x2="359.70" y2="426.00" stroke="#333" stroke-width="1"/>
<text x="359.70" y="438.20" font-family='"Liberation Serif", serif' font-size="12" font-weight="bold" text-anchor="middle" fill="#000">10</text>
<line x1="397.40" y1="423.00" x2="397.40" y2="426.00" stroke="#333" stroke-width="1"/>
<text x="397.40" y="438.20" font-family='"Liberation Serif", serif' font-size="12" font-weight="bold" text-anchor="middle" fill="#000">20</text>
<line x1="435.10" y1="423.00" x2="435.10" y2="426.00" stroke="#333" stroke-width="1"/>
<text x="435.10" y="438.20" font-family='"Liberation Serif", serif' font-size="12" font-weight="bold" text-anchor="middle" fill="#000">30</text>
<line x1="472.80" y1="423.00" x2="472.80" y2="426.00" stroke="#333" stroke-width="1"/>
<text x="472.80" y="438.20" font-family='"Liberation Serif", serif' font-size="12" font-weight="bold" text-anchor="middle" fill="#000">40</text>
<line x1="510.50" y1="423.00" x2="510.50" y2="426.00" stroke="#333" stroke-width="1"/>
<text x="510.50" y="438.20" font-family='"Liberation Serif", serif' font-size="12" font-weight="bold" text-anchor="middle" fill="#000">50</text>
<text x="406.20" y="459.90" font-family='"Liberation Serif", serif' font-size="15.45" font-weight="bold" text-anchor="middle" fill="#000">Pathogen:phagocyte ratio</text>
<text transform="translate(265.8 379.2) rotate(-90)" font-family='"Liberation Serif", serif' font-size="13.4" font-weight="bold">pH<tspan font-size="9.5" dy="2.5">i</tspan><tspan dy="-2.5">-Max (pHunit)</tspan></text>
<text x="259.3" y="392.6" font-family='"Liberation Serif", serif' font-size="20.5" font-weight="normal" text-anchor="middle">→</text>
<line x1="322.50" y1="282.80" x2="511.00" y2="368.80" stroke="#111" stroke-width="1.2"/>
<line x1="326.30" y1="270.80" x2="326.30" y2="279.00" stroke="#222" stroke-width="0.9"/>
<line x1="322.90" y1="270.80" x2="329.70" y2="270.80" stroke="#222" stroke-width="0.9"/>
<line x1="322.90" y1="279.00" x2="329.70" y2="279.00" stroke="#222" stroke-width="0.9"/>
<line x1="333.80" y1="278.00" x2="333.80" y2="292.00" stroke="#222" stroke-width="0.9"/>
<line x1="330.40" y1="278.00" x2="337.20" y2="278.00" stroke="#222" stroke-width="0.9"/>
<line x1="330.40" y1="292.00" x2="337.20" y2="292.00" stroke="#222" stroke-width="0.9"/>
<line x1="344.50" y1="297.50" x2="344.50" y2="312.00" stroke="#222" stroke-width="0.9"/>
<line x1="341.10" y1="297.50" x2="347.90" y2="297.50" stroke="#222" stroke-width="0.9"/>
<line x1="341.10" y1="312.00" x2="347.90" y2="312.00" stroke="#222" stroke-width="0.9"/>
<line x1="367.50" y1="304.50" x2="367.50" y2="318.80" stroke="#222" stroke-width="0.9"/>
<line x1="364.10" y1="304.50" x2="370.90" y2="304.50" stroke="#222" stroke-width="0.9"/>
<line x1="364.10" y1="318.80" x2="370.90" y2="318.80" stroke="#222" stroke-width="0.9"/>
<line x1="397.50" y1="308.80" x2="397.50" y2="323.20" stroke="#222" stroke-width="0.9"/>
<line x1="394.10" y1="308.80" x2="400.90" y2="308.80" stroke="#222" stroke-width="0.9"/>
<line x1="394.10" y1="323.20" x2="400.90" y2="323.20" stroke="#222" stroke-width="0.9"/>
<line x1="435.00" y1="319.50" x2="435.00" y2="333.00" stroke="#222" stroke-width="0.9"/>
<line x1="431.60" y1="319.50" x2="438.40" y2="319.50" stroke="#222" stroke-width="0.9"/>
<line x1="431.60" y1="333.00" x2="438.40" y2="333.00" stroke="#222" stroke-width="0.9"/>
<line x1="491.30" y1="357.50" x2="491.30" y2="368.80" stroke="#222" stroke-width="0.9"/>
<line x1="487.90" y1="357.50" x2="494.70" y2="357.50" stroke="#222" stroke-width="0.9"/>
<line x1="487.90" y1="368.80" x2="494.70" y2="368.80" stroke="#222" stroke-width="0.9"/>
<polygon points="326.30,278.18 323.10,271.78 329.50,271.78" fill="#000" stroke="#000" stroke-width="0.5"/>
<polygon points="333.80,288.68 330.60,282.28 337.00,282.28" fill="#000" stroke="#000" stroke-width="0.5"/>
<polygon points="344.50,309.18 341.30,302.78 347.70,302.78" fill="#000" stroke="#000" stroke-width="0.5"/>
<polygon points="367.50,315.48 364.30,309.08 370.70,309.08" fill="#000" stroke="#000" stroke-width="0.5"/>
<polygon points="397.50,319.48 394.30,313.08 400.70,313.08" fill="#000" stroke="#000" stroke-width="0.5"/>
<polygon points="435.00,330.18 431.80,323.78 438.20,323.78" fill="#000" stroke="#000" stroke-width="0.5"/>
<polygon points="491.30,367.48 488.10,361.08 494.50,361.08" fill="#000" stroke="#000" stroke-width="0.5"/>
<text x="434.0" y="283.6" font-family='"Liberation Serif", serif' font-size="13.7" font-weight="bold">r<tspan font-size="9.7" dy="-5">2</tspan><tspan dy="5">=0.928</tspan></text>
</g>
</svg>
</body></html>
